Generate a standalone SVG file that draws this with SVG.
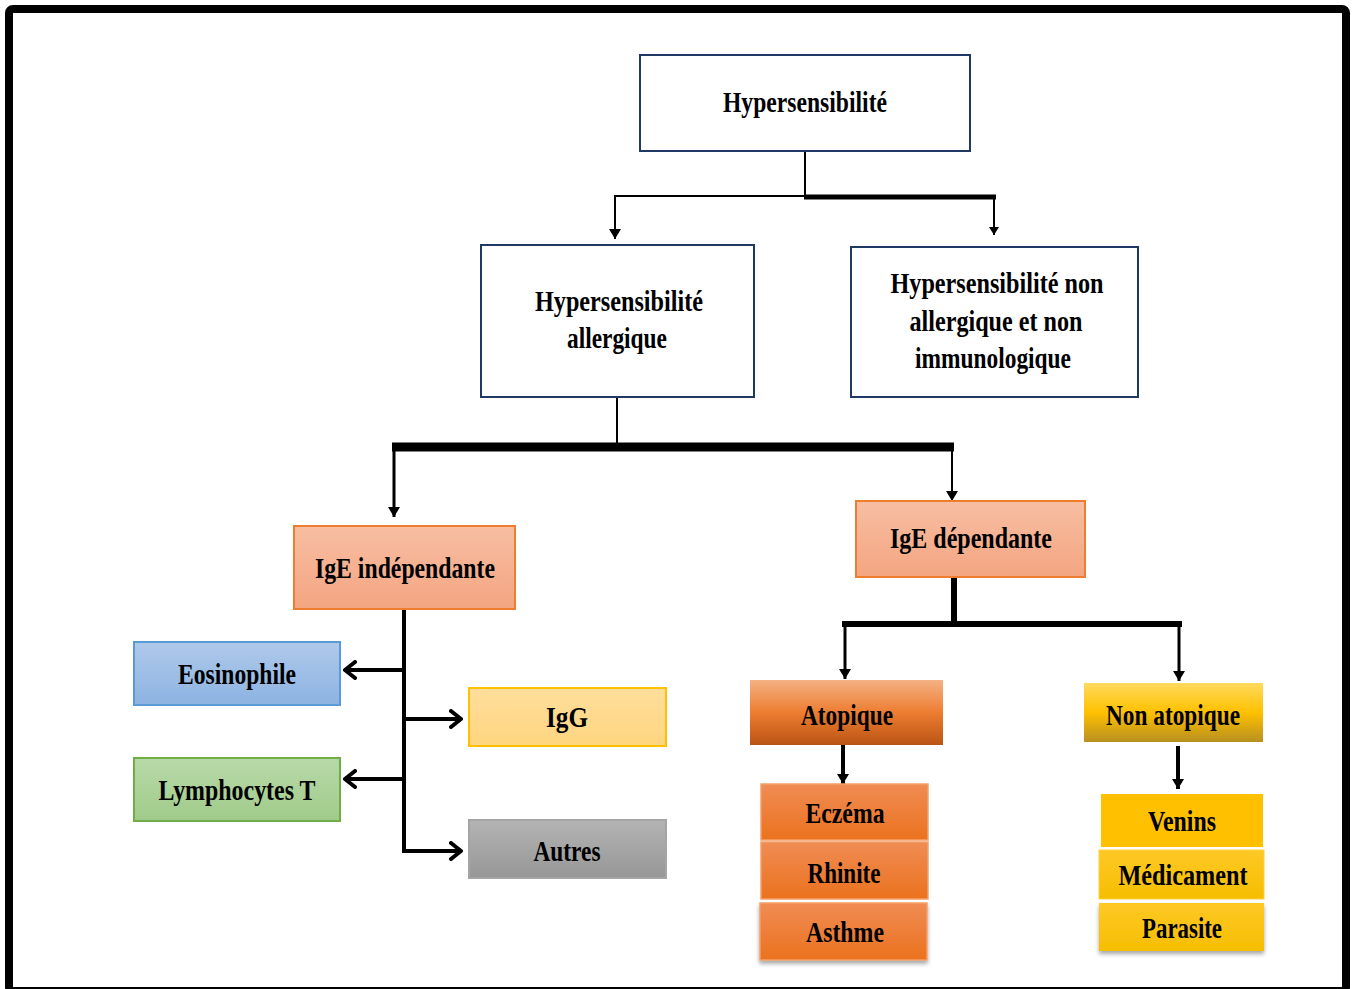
<svg xmlns="http://www.w3.org/2000/svg" width="1354" height="989" viewBox="0 0 1354 989">
<style>
  text { font-family: "Liberation Serif", "Times New Roman", serif; font-weight: bold; font-size: 29px; fill: #000; text-anchor: middle; }
  .wbox { fill: #fff; stroke: #1F3864; stroke-width: 2; }
  .ln { fill: none; stroke: #000; }
</style>
<defs>
  <linearGradient id="gSalmon" x1="0" y1="0" x2="0" y2="1"><stop offset="0" stop-color="#F7BEA2"/><stop offset="1" stop-color="#F4A581"/></linearGradient>
  <linearGradient id="gBlue" x1="0" y1="0" x2="0" y2="1"><stop offset="0" stop-color="#AFC9EA"/><stop offset="1" stop-color="#8DB3E2"/></linearGradient>
  <linearGradient id="gGreen" x1="0" y1="0" x2="0" y2="1"><stop offset="0" stop-color="#B8D9A8"/><stop offset="1" stop-color="#A0CB8A"/></linearGradient>
  <linearGradient id="gYellowL" x1="0" y1="0" x2="0" y2="1"><stop offset="0" stop-color="#FFDF9C"/><stop offset="1" stop-color="#FFD47E"/></linearGradient>
  <linearGradient id="gGray" x1="0" y1="0" x2="0" y2="1"><stop offset="0" stop-color="#B4B4B4"/><stop offset="1" stop-color="#979797"/></linearGradient>
  <linearGradient id="gAtop" x1="0" y1="0" x2="0" y2="1"><stop offset="0" stop-color="#F4B183"/><stop offset="0.5" stop-color="#ED7D31"/><stop offset="1" stop-color="#BA5414"/></linearGradient>
  <linearGradient id="gNonAtop" x1="0" y1="0" x2="0" y2="1"><stop offset="0" stop-color="#FFDA5E"/><stop offset="0.5" stop-color="#FFC000"/><stop offset="1" stop-color="#B89020"/></linearGradient>
  <linearGradient id="gOrange" x1="0" y1="0" x2="0" y2="1"><stop offset="0" stop-color="#F08C54"/><stop offset="1" stop-color="#EB721E"/></linearGradient>
  <linearGradient id="gGold" x1="0" y1="0" x2="0" y2="1"><stop offset="0" stop-color="#FFC826"/><stop offset="1" stop-color="#F5BE00"/></linearGradient>
  <filter id="shadow" x="-10%" y="-10%" width="120%" height="140%"><feDropShadow dx="0" dy="3" stdDeviation="2" flood-color="#000" flood-opacity="0.35"/></filter>
  <marker id="tri" viewBox="0 0 10 12" refX="10" refY="6" markerWidth="10" markerHeight="12" markerUnits="userSpaceOnUse" orient="auto"><path d="M0,0 L10,6 L0,12 z" fill="#000"/></marker>
  <marker id="triS" viewBox="0 0 8 10" refX="8" refY="5" markerWidth="8" markerHeight="10" markerUnits="userSpaceOnUse" orient="auto"><path d="M0,0 L8,5 L0,10 z" fill="#000"/></marker>
  <marker id="chev" viewBox="0 0 14 20" refX="12" refY="10" markerWidth="14" markerHeight="20" markerUnits="userSpaceOnUse" orient="auto"><path d="M2,2 L12,10 L2,18" fill="none" stroke="#000" stroke-width="4" stroke-linecap="round" stroke-linejoin="round"/></marker>
</defs>

<rect x="9" y="9" width="1337" height="982" rx="4" fill="#fff" stroke="#000" stroke-width="8"/>

<g id="connectors">
  <path class="ln" stroke-width="2" d="M805,151 V197"/>
  <path class="ln" stroke-width="2" d="M806,196 H615 V239" marker-end="url(#tri)"/>
  <path class="ln" stroke-width="5" d="M804,197 H996"/>
  <path class="ln" stroke-width="2" d="M994,197 V235" marker-end="url(#triS)"/>

  <path class="ln" stroke-width="2" d="M617,397 V446"/>
  <path class="ln" stroke-width="9" d="M392,447 H954"/>
  <path class="ln" stroke-width="3" d="M394,447 V517" marker-end="url(#tri)"/>
  <path class="ln" stroke-width="2" d="M952,447 V501" marker-end="url(#tri)"/>

  <path class="ln" stroke-width="4" d="M404,609 V851 H461"/>
  <path class="ln" stroke-width="4" d="M404,670 H345" marker-end="url(#chev)"/>
  <path class="ln" stroke-width="4" d="M404,719 H461" marker-end="url(#chev)"/>
  <path class="ln" stroke-width="4" d="M404,779 H345" marker-end="url(#chev)"/>
  <path class="ln" stroke-width="4" d="M440,851 H461" marker-end="url(#chev)"/>

  <path class="ln" stroke-width="6" d="M954,577 V624"/>
  <path class="ln" stroke-width="6" d="M842,624 H1182"/>
  <path class="ln" stroke-width="3" d="M845,624 V679" marker-end="url(#tri)"/>
  <path class="ln" stroke-width="3" d="M1179,624 V681" marker-end="url(#tri)"/>
  <path class="ln" stroke-width="4" d="M843,745 V784" marker-end="url(#tri)"/>
  <path class="ln" stroke-width="4" d="M1178,746 V789" marker-end="url(#tri)"/>
</g>

<g id="n-hyper"><rect class="wbox" x="640" y="55" width="330" height="96"/><text x="805" y="112" textLength="164" lengthAdjust="spacingAndGlyphs">Hypersensibilité</text></g>
<g id="n-allerg"><rect class="wbox" x="481" y="245" width="273" height="152"/><text x="619" y="311" textLength="168" lengthAdjust="spacingAndGlyphs">Hypersensibilité</text><text x="617" y="348" textLength="100" lengthAdjust="spacingAndGlyphs">allergique</text></g>
<g id="n-nonallerg"><rect class="wbox" x="851" y="247" width="287" height="150"/><text x="997" y="293" textLength="213" lengthAdjust="spacingAndGlyphs">Hypersensibilité non</text><text x="996" y="331" textLength="173" lengthAdjust="spacingAndGlyphs">allergique et non</text><text x="993" y="368" textLength="156" lengthAdjust="spacingAndGlyphs">immunologique</text></g>

<g id="n-ige-indep"><rect x="294" y="526" width="221" height="83" fill="url(#gSalmon)" stroke="#ED7D31" stroke-width="2"/><text x="405" y="578" textLength="180" lengthAdjust="spacingAndGlyphs">IgE indépendante</text></g>
<g id="n-ige-dep"><rect x="856" y="501" width="229" height="76" fill="url(#gSalmon)" stroke="#ED7D31" stroke-width="2"/><text x="971" y="548" textLength="162" lengthAdjust="spacingAndGlyphs">IgE dépendante</text></g>

<g id="n-eosino"><rect x="134" y="642" width="206" height="63" fill="url(#gBlue)" stroke="#5B9BD5" stroke-width="2"/><text x="237" y="684" textLength="118" lengthAdjust="spacingAndGlyphs">Eosinophile</text></g>
<g id="n-igg"><rect x="469" y="688" width="197" height="58" fill="url(#gYellowL)" stroke="#FFC000" stroke-width="2"/><text x="567" y="727" textLength="42" lengthAdjust="spacingAndGlyphs">IgG</text></g>
<g id="n-lympho"><rect x="134" y="758" width="206" height="63" fill="url(#gGreen)" stroke="#70AD47" stroke-width="2"/><text x="237" y="800" textLength="157" lengthAdjust="spacingAndGlyphs">Lymphocytes T</text></g>
<g id="n-autres"><rect x="469" y="820" width="197" height="58" fill="url(#gGray)" stroke="#A5A5A5" stroke-width="2"/><text x="567" y="861" textLength="67" lengthAdjust="spacingAndGlyphs">Autres</text></g>

<g id="n-atop"><rect x="750" y="680" width="193" height="65" fill="url(#gAtop)"/><text x="847" y="725" textLength="92" lengthAdjust="spacingAndGlyphs">Atopique</text></g>
<g id="n-nonatop"><rect x="1084" y="683" width="179" height="59" fill="url(#gNonAtop)"/><text x="1173" y="725" textLength="134" lengthAdjust="spacingAndGlyphs">Non atopique</text></g>

<g id="n-eczema"><rect x="761" y="784" width="167" height="56" fill="url(#gOrange)" stroke="#F4A06A" stroke-width="1.5"/><text x="845" y="823" textLength="79" lengthAdjust="spacingAndGlyphs">Eczéma</text></g>
<g id="n-rhinite"><rect x="761" y="842" width="167" height="57" fill="url(#gOrange)" stroke="#F4A06A" stroke-width="1.5"/><text x="844" y="883" textLength="73" lengthAdjust="spacingAndGlyphs">Rhinite</text></g>
<g id="n-asthme"><rect x="760" y="903" width="167" height="57" fill="url(#gOrange)" stroke="#F4A06A" stroke-width="1.5" filter="url(#shadow)"/><text x="845" y="942" textLength="78" lengthAdjust="spacingAndGlyphs">Asthme</text></g>

<g id="n-venins"><rect x="1101" y="794" width="162" height="53" fill="#FFC000"/><text x="1182" y="831" textLength="68" lengthAdjust="spacingAndGlyphs">Venins</text></g>
<g id="n-medic"><rect x="1099" y="850" width="165" height="49" fill="url(#gGold)" stroke="#FFCF40" stroke-width="1"/><text x="1183" y="885" textLength="129" lengthAdjust="spacingAndGlyphs">Médicament</text></g>
<g id="n-parasite"><rect x="1099" y="903" width="165" height="48" fill="url(#gGold)" filter="url(#shadow)"/><text x="1182" y="938" textLength="80" lengthAdjust="spacingAndGlyphs">Parasite</text></g>
</svg>
